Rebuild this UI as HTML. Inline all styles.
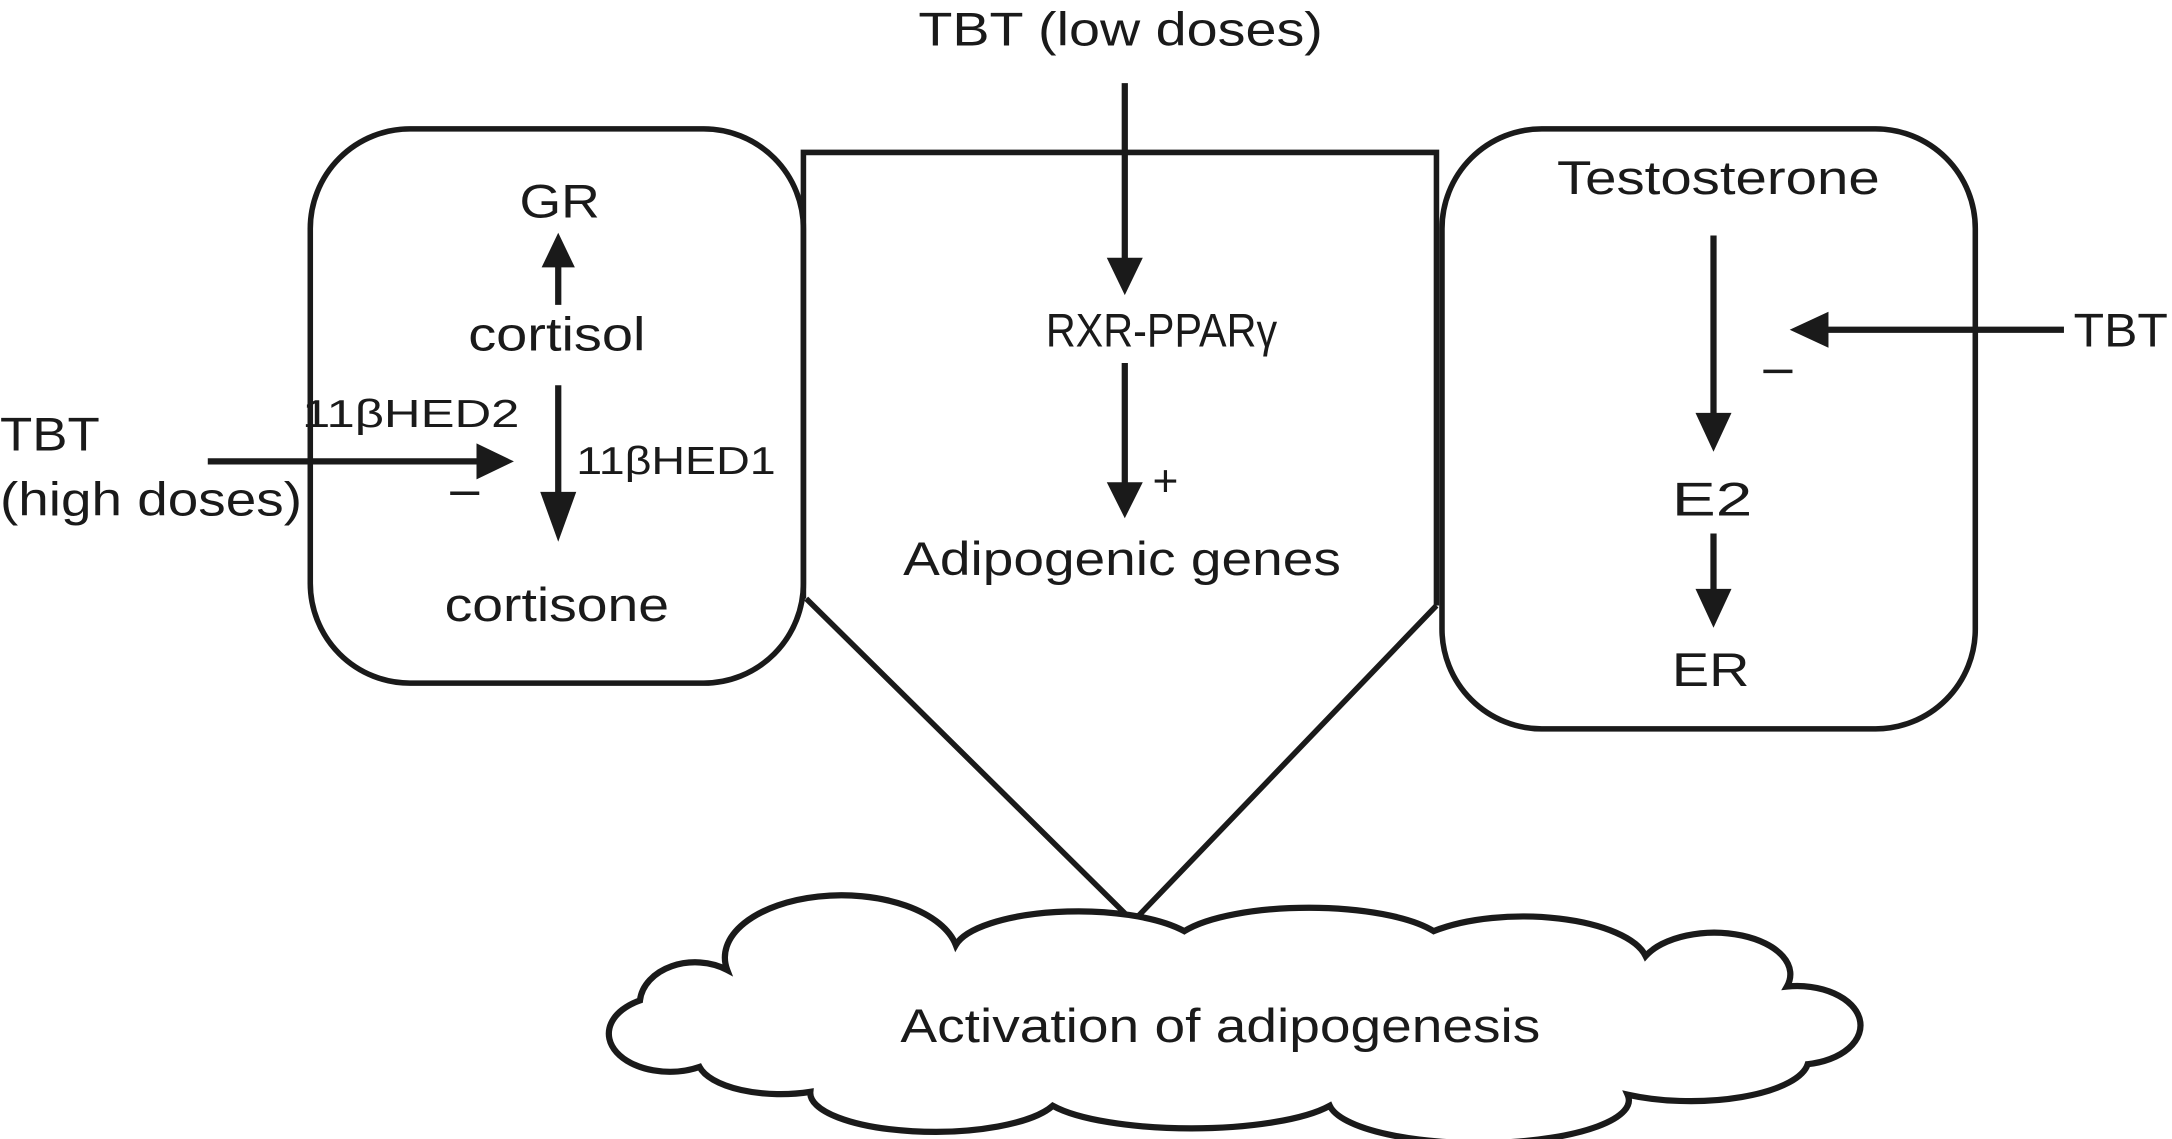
<!DOCTYPE html>
<html><head><meta charset="utf-8"><style>
html,body{margin:0;padding:0;background:#fff;}
svg{display:block;}
text{font-family:"Liberation Sans",Arial,sans-serif;fill:#1a1a1a;}
</style></head><body>
<svg width="2172" height="1139" viewBox="0 0 1568 822" preserveAspectRatio="none" xmlns="http://www.w3.org/2000/svg">
<g fill="none" stroke="#1a1a1a" stroke-width="4">
<rect x="224" y="93" width="356" height="400" rx="72" ry="72"/>
<rect x="1041" y="93" width="385" height="433" rx="72" ry="72"/>
<polyline points="580,432 580,110 1037,110 1037,437"/>
<line x1="582" y1="432" x2="818" y2="665"/>
<line x1="1037" y1="437" x2="818" y2="665"/>
</g>
<g stroke="#1a1a1a" stroke-width="4.5" fill="#1a1a1a">
<line x1="812" y1="60" x2="812" y2="190"/><polygon points="799,186 825,186 812,213" stroke="none"/>
<line x1="812" y1="262" x2="812" y2="352"/><polygon points="799,348 825,348 812,374" stroke="none"/>
<line x1="403" y1="220" x2="403" y2="190"/><polygon points="391,193 415,193 403,168" stroke="none"/>
<line x1="403" y1="278" x2="403" y2="360"/><polygon points="390,355 416,355 403,391" stroke="none"/>
<line x1="150" y1="333" x2="348" y2="333"/><polygon points="344,320 344,346 371,333" stroke="none"/>
<line x1="1237" y1="170" x2="1237" y2="302"/><polygon points="1224,298 1250,298 1237,326" stroke="none"/>
<line x1="1237" y1="385" x2="1237" y2="428"/><polygon points="1224,425 1250,425 1237,453" stroke="none"/>
<line x1="1490" y1="238" x2="1316" y2="238"/><polygon points="1320,225 1320,251 1292,238" stroke="none"/>
<line x1="325" y1="356" x2="346" y2="356" stroke-width="2.5"/>
<line x1="1273" y1="268" x2="1294" y2="268" stroke-width="2.5"/>
</g>
<path d="M462,722 A40,30 0 0 1 525,700 A75,40 0 0 1 690,682 A90,30 0 0 1 855,672 A100,30 0 0 1 1035,672 A90,35 0 0 1 1188,690 A55,30 0 0 1 1290,712 A45,28 0 0 1 1305,768 A85,30 0 0 1 1175,790 A105,30 0 0 1 960,798 A110,28 0 0 1 760,798 A90,28 0 0 1 585,788 A60,25 0 0 1 505,770 A40,25 0 0 1 462,722 Z" fill="#fff" stroke="#1a1a1a" stroke-width="4.5"/>
<g font-size="34">
<text x="663" y="33" textLength="292" lengthAdjust="spacingAndGlyphs">TBT (low doses)</text>
<text x="375" y="157" textLength="58" lengthAdjust="spacingAndGlyphs">GR</text>
<text x="338" y="253" textLength="128" lengthAdjust="spacingAndGlyphs">cortisol</text>
<text x="321" y="448" textLength="162" lengthAdjust="spacingAndGlyphs">cortisone</text>
<text x="0" y="325" textLength="72" lengthAdjust="spacingAndGlyphs">TBT</text>
<text x="0" y="372" textLength="218" lengthAdjust="spacingAndGlyphs">(high doses)</text>
<text x="755" y="250" textLength="167" lengthAdjust="spacingAndGlyphs">RXR-PPARγ</text>
<text x="652" y="415" textLength="316" lengthAdjust="spacingAndGlyphs">Adipogenic genes</text>
<text x="1124" y="140" textLength="233" lengthAdjust="spacingAndGlyphs">Testosterone</text>
<text x="1207" y="372" textLength="58" lengthAdjust="spacingAndGlyphs">E2</text>
<text x="1207" y="495" textLength="56" lengthAdjust="spacingAndGlyphs">ER</text>
<text x="1497" y="250" textLength="68" lengthAdjust="spacingAndGlyphs">TBT</text>
<text x="650" y="752" textLength="462" lengthAdjust="spacingAndGlyphs">Activation of adipogenesis</text>
</g>
<g font-size="28">
<text x="218" y="308" textLength="157" lengthAdjust="spacingAndGlyphs">11βHED2</text>
<text x="416" y="342" textLength="144" lengthAdjust="spacingAndGlyphs">11βHED1</text>
</g>
<text x="832" y="358" font-size="32">+</text>
</svg>
</body></html>
